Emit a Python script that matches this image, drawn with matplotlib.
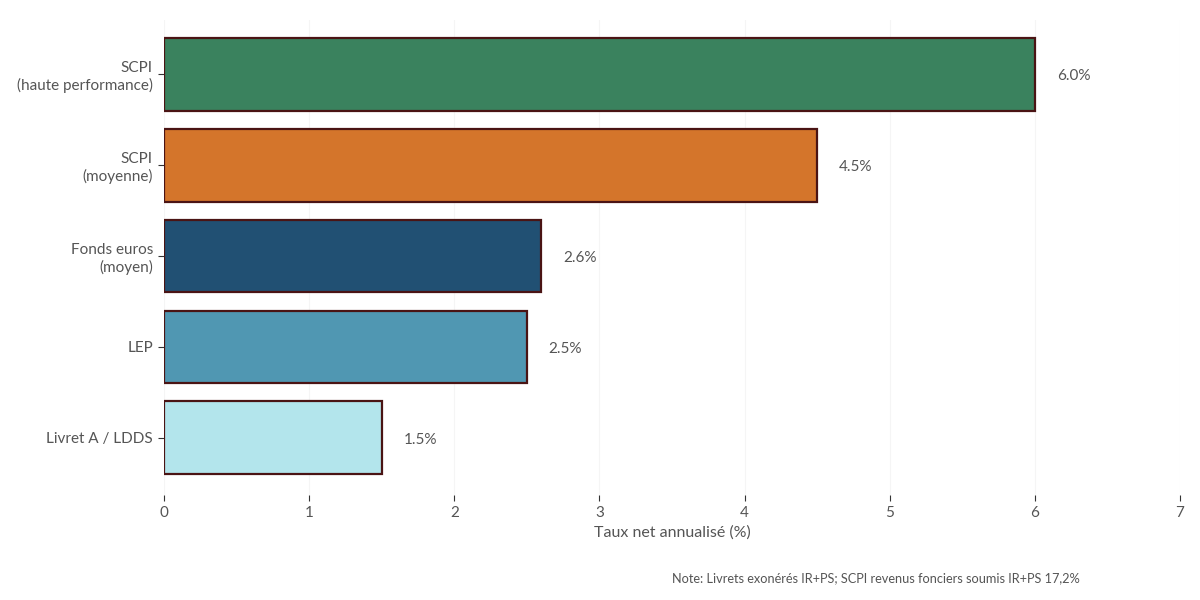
import numpy as np
import matplotlib.pyplot as plt

categories = ['SCPI\n(haute performance)', 'SCPI\n(moyenne)', 'Fonds euros\n(moyen)', 'LEP', 'Livret A / LDDS']
values = [6.0, 4.5, 2.6, 2.5, 1.5]
colors = ['#3a825e', '#d4752b', '#215073', '#5097b2', '#b3e5ec']
xticks = [0, 1, 2, 3, 4, 5, 6, 7]
note = 'Note: Livrets exonérés IR+PS; SCPI revenus fonciers soumis IR+PS 17,2%'

plt.rcParams['font.family'] = ['Lato', 'DejaVu Sans']
txt = '#555555'

fig = plt.figure(figsize=(12, 6), dpi=100)
ax = fig.add_axes([164 / 1200, 1 - 495 / 600, (1180 - 164) / 1200, (495 - 20) / 600])

ypos = np.arange(len(categories))
ax.barh(ypos, values, height=0.8, color=colors, edgecolor='#4a1414', linewidth=1.6, zorder=3)
for y, v in zip(ypos, values):
    ax.text(v + 0.15, y + 0.02, f'{v:.1f}%', va='center', ha='left', fontsize=11, color=txt)

ax.set_xlim(0, 7)
ax.set_ylim(4.63, -0.6)
ax.set_xticks(xticks)
ax.set_xticklabels([str(t) for t in xticks])
ax.set_yticks(ypos)
ax.set_yticklabels(categories)
ax.grid(axis='x', color='#f5f5f5', linewidth=0.8, zorder=0)
for s in ax.spines.values():
    s.set_visible(False)
ax.tick_params(axis='both', colors='#333333', labelcolor=txt, labelsize=11, length=4, width=0.8)
ax.tick_params(axis='y', pad=4)
ax.tick_params(axis='x', pad=4)
ax.set_xlabel('Taux net annualisé (%)', fontsize=11.5, color=txt, labelpad=4)

fig.text(0.9, 1 - 578 / 600, note, ha='right', va='center', fontsize=9.2, color=txt)

fig.savefig('out.png', dpi=100)
